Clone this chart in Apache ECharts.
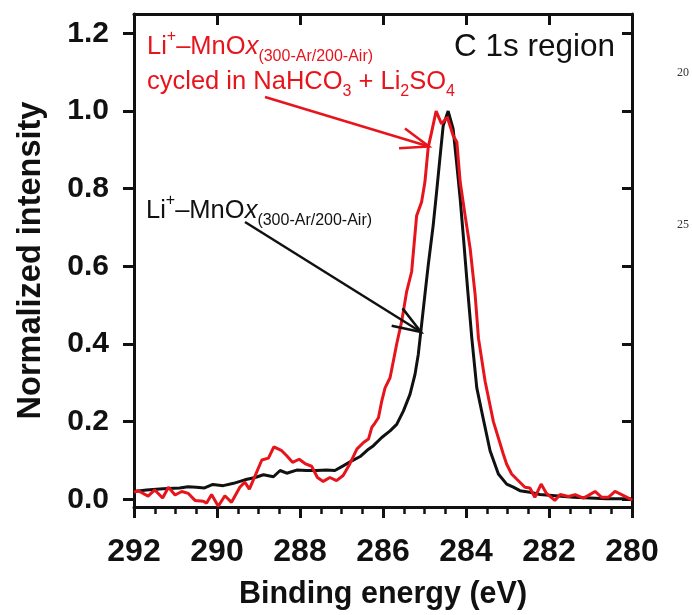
<!DOCTYPE html>
<html>
<head>
<meta charset="utf-8">
<script src="https://cdn.jsdelivr.net/npm/echarts@6/dist/echarts.min.js"></script>
<style>
  html, body { margin: 0; padding: 0; background: #fff; }
  #main { width: 692px; height: 615px; }
</style>
</head>
<body>
<div id="main"></div>
<script>
// 数据：结合能 (eV) 与归一化强度
var blackEnergy = [292.0, 291.7, 291.3, 290.9, 290.7, 290.5, 290.3, 290.1, 289.85, 289.6, 289.33, 289.08, 288.88, 288.64, 288.48, 288.32, 288.08, 287.84, 287.6, 287.36, 287.16, 286.96, 286.75, 286.55, 286.35, 286.23, 286.03, 285.83, 285.67, 285.51, 285.35, 285.23, 285.15, 285.07, 284.99, 284.91, 284.79, 284.71, 284.63, 284.55, 284.43, 284.31, 284.22, 284.14, 284.06, 283.96, 283.86, 283.74, 283.58, 283.42, 283.22, 283.02, 282.86, 282.7, 282.46, 282.22, 281.41, 280.61, 280.0];
var blackIntensity = [0.020, 0.024, 0.027, 0.029, 0.032, 0.031, 0.029, 0.038, 0.035, 0.041, 0.050, 0.056, 0.063, 0.058, 0.074, 0.067, 0.075, 0.074, 0.074, 0.075, 0.074, 0.086, 0.099, 0.110, 0.129, 0.138, 0.159, 0.176, 0.193, 0.227, 0.270, 0.321, 0.373, 0.450, 0.527, 0.603, 0.706, 0.790, 0.877, 0.962, 1.000, 0.954, 0.860, 0.774, 0.672, 0.540, 0.415, 0.287, 0.205, 0.125, 0.065, 0.039, 0.031, 0.022, 0.018, 0.012, 0.005, 0.001, 0.001];

var redEnergy = [292.0, 291.9, 291.66, 291.5, 291.31, 291.17, 291.01, 290.85, 290.69, 290.53, 290.33, 290.25, 290.13, 289.97, 289.81, 289.65, 289.45, 289.33, 289.22, 289.08, 288.92, 288.76, 288.63, 288.44, 288.32, 288.18, 288.02, 287.88, 287.72, 287.58, 287.44, 287.28, 287.12, 286.96, 286.8, 286.63, 286.47, 286.35, 286.27, 286.19, 286.11, 286.03, 285.95, 285.83, 285.75, 285.67, 285.55, 285.43, 285.31, 285.19, 285.07, 284.99, 284.91, 284.83, 284.72, 284.59, 284.45, 284.31, 284.22, 284.14, 284.02, 283.9, 283.78, 283.7, 283.54, 283.34, 283.1, 283.02, 282.9, 282.78, 282.58, 282.46, 282.34, 282.19, 282.06, 281.86, 281.73, 281.53, 281.37, 281.17, 281.05, 280.89, 280.73, 280.57, 280.41, 280.25, 280.05, 280.0];
var redIntensity = [0.018, 0.022, 0.008, 0.024, 0.003, 0.031, 0.011, 0.020, 0.015, -0.003, -0.005, -0.010, 0.012, -0.018, 0.009, -0.008, 0.031, 0.044, 0.026, 0.061, 0.101, 0.106, 0.135, 0.125, 0.112, 0.095, 0.103, 0.092, 0.085, 0.056, 0.046, 0.056, 0.048, 0.061, 0.091, 0.129, 0.146, 0.155, 0.185, 0.197, 0.210, 0.253, 0.287, 0.313, 0.356, 0.400, 0.458, 0.535, 0.586, 0.730, 0.766, 0.817, 0.907, 0.945, 1.000, 0.967, 0.984, 0.937, 0.920, 0.817, 0.730, 0.646, 0.527, 0.415, 0.304, 0.200, 0.116, 0.090, 0.065, 0.052, 0.031, 0.029, 0.005, 0.039, 0.015, -0.003, 0.012, 0.007, 0.012, 0.003, 0.010, 0.020, 0.005, 0.005, 0.020, 0.012, 0.001, -0.003];

var yTicks = [0, 0.2, 0.4, 0.6, 0.8, 1.0, 1.2];

function zip(xs, ys) {
    var out = [];
    for (var i = 0; i < xs.length; i++) out.push([xs[i], ys[i]]);
    return out;
}

var FONT = 'Liberation Sans, Arial, sans-serif';
var RED = '#e8141c';
var BLACK = '#111111';

// 箭头（开口V形），角度 ±20°
function arrow(x1, y1, x2, y2, color) {
    var a = Math.atan2(y1 - y2, x1 - x2), len = 30, d = 20 * Math.PI / 180;
    var style = { stroke: color, lineWidth: 2.5, fill: null };
    return [
        { type: 'polyline', shape: { points: [[x1, y1], [x2, y2]] }, style: style, z: 10 },
        { type: 'polyline', shape: { points: [
            [x2 + len * Math.cos(a + d), y2 + len * Math.sin(a + d)],
            [x2, y2],
            [x2 + len * Math.cos(a - d), y2 + len * Math.sin(a - d)]
        ] }, style: style, z: 10 }
    ];
}

function label(x, y, color, parts) {
    return {
        type: 'text', left: x, top: y, z: 10,
        style: {
            text: parts,
            fill: color,
            font: '25px ' + FONT,
            rich: {
                a: { fontSize: 25.5, fontFamily: FONT, fill: color, lineHeight: 36, verticalAlign: 'middle' },
                i: { fontSize: 25.5, fontFamily: FONT, fontStyle: 'italic', fill: color, lineHeight: 36, verticalAlign: 'middle' },
                sup: { fontSize: 16, fontFamily: FONT, fill: color, verticalAlign: 'top', lineHeight: 36 },
                sub: { fontSize: 16, fontFamily: FONT, fill: color, verticalAlign: 'bottom', lineHeight: 36 }
            }
        }
    };
}

var myChart = echarts.init(document.getElementById('main'));

var graphics = []
    .concat([
        label(147, 29, RED, '{a|Li}{sup|+}{a|–MnO}{i|x}{sub|(300-Ar/200-Air)}'),
        label(147, 69, RED, '{a|cycled in NaHCO}{sub|3}{a| + Li}{sub|2}{a|SO}{sub|4}'),
        label(146, 193, BLACK, '{a|Li}{sup|+}{a|–MnO}{i|x}{sub|(300-Ar/200-Air)}'),
        {
            type: 'text', left: 454, top: 31, z: 10,
            style: { text: 'C 1s region', font: '31.5px ' + FONT, fill: BLACK }
        },
        { type: 'text', left: 677, top: 67, style: { text: '20', font: '12px Liberation Serif, serif', fill: '#333' } },
        { type: 'text', left: 677, top: 219, style: { text: '25', font: '12px Liberation Serif, serif', fill: '#333' } }
    ])
    .concat(arrow(265, 97, 429, 146.5, RED))
    .concat(arrow(245, 222, 421, 332, BLACK));

var axisLineStyle = { color: BLACK, width: 3 };

var option = {
    animation: false,
    backgroundColor: '#ffffff',
    grid: { left: 134, right: 60, top: 14, bottom: 105 },
    xAxis: [
        {
            type: 'value', min: 280, max: 292, interval: 2, inverse: true,
            position: 'bottom',
            name: 'Binding energy (eV)', nameLocation: 'middle', nameGap: 72,
            nameTextStyle: { fontFamily: FONT, fontWeight: 'bold', fontSize: 30.5, color: BLACK },
            axisLine: { show: true, onZero: false, lineStyle: axisLineStyle },
            axisTick: { show: true, inside: false, length: 11, lineStyle: { color: BLACK, width: 3 } },
            minorTick: { show: true, splitNumber: 4, length: 7, lineStyle: { color: BLACK, width: 2.5 } },
            axisLabel: { margin: 29, fontFamily: FONT, fontWeight: 'bold', fontSize: 32, color: BLACK },
            splitLine: { show: false }
        },
        {
            type: 'value', min: 280, max: 292, interval: 2, inverse: true,
            position: 'top',
            axisLine: { show: true, onZero: false, lineStyle: axisLineStyle },
            axisTick: { show: true, inside: true, length: 11, lineStyle: { color: BLACK, width: 3 } },
            axisLabel: { show: false },
            splitLine: { show: false }
        }
    ],
    yAxis: [
        {
            type: 'value', min: -0.02, max: 1.25,
            position: 'left',
            name: 'Normalized intensity', nameLocation: 'middle', nameGap: 86,
            nameTextStyle: { fontFamily: FONT, fontWeight: 'bold', fontSize: 32.5, color: BLACK },
            axisLine: { show: true, onZero: false, lineStyle: axisLineStyle },
            axisTick: { show: true, inside: false, length: 11, customValues: yTicks, lineStyle: { color: BLACK, width: 3 } },
            axisLabel: {
                margin: 25, customValues: yTicks, fontFamily: FONT, fontWeight: 'bold', fontSize: 30, color: BLACK,
                formatter: function (v) { return v.toFixed(1); }
            },
            splitLine: { show: false }
        },
        {
            type: 'value', min: -0.02, max: 1.25,
            position: 'right',
            axisLine: { show: true, onZero: false, lineStyle: axisLineStyle },
            axisTick: { show: true, inside: true, length: 10, customValues: yTicks, lineStyle: { color: BLACK, width: 3 } },
            axisLabel: { show: false },
            splitLine: { show: false }
        }
    ],
    series: [
        {
            name: 'Li+-MnOx', type: 'line', xAxisIndex: 0, yAxisIndex: 0,
            data: zip(blackEnergy, blackIntensity),
            symbol: 'none', clip: true,
            lineStyle: { color: BLACK, width: 3 }, z: 3
        },
        {
            name: 'cycled', type: 'line', xAxisIndex: 0, yAxisIndex: 0,
            data: zip(redEnergy, redIntensity),
            symbol: 'none', clip: true,
            lineStyle: { color: RED, width: 3 }, z: 4
        }
    ],
    graphic: graphics
};

myChart.setOption(option);
</script>
</body>
</html>
